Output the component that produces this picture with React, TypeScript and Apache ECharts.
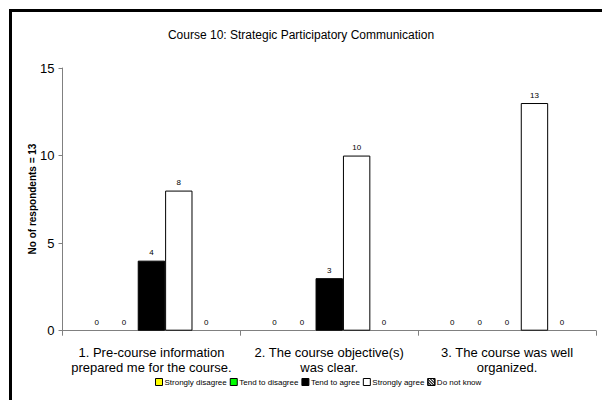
import React, { useEffect, useRef } from "react";
import * as echarts from "echarts";

const categories = [
  "1. Pre-course information\nprepared me for the course.",
  "2. The course objective(s)\nwas clear.",
  "3. The course was well\norganized.",
];
const seriesNames = [
  "Strongly disagree",
  "Tend to disagree",
  "Tend to agree",
  "Strongly agree",
  "Do not know",
];
const stronglyDisagree = [0, 0, 0];
const tendToDisagree = [0, 0, 0];
const tendToAgree = [4, 3, 0];
const stronglyAgree = [8, 10, 13];
const doNotKnow = [0, 0, 0];
const yTicks = { min: 0, max: 15, interval: 5 };
const yAxisTitle = "No of respondents = 13";

const FONT = "'Liberation Sans', Arial, sans-serif";

export default function App() {
  const ref = useRef<HTMLDivElement>(null);
  useEffect(() => {
    if (!ref.current) return;
    const chart = echarts.init(ref.current, undefined, { renderer: "svg" });
    const values = [stronglyDisagree, tendToDisagree, tendToAgree, stronglyAgree, doNotKnow];
    const colors = ["#FFFF00", "#00FF00", "#000000", "#FFFFFF", "#FFFFFF"];
    const series = seriesNames.map((name, i) => ({
      name,
      type: "bar",
      data: values[i].map((v) => ({
        value: v,
        itemStyle: { borderWidth: v === 0 ? 0 : 1 },
      })),
      barGap: "0%",
      barCategoryGap: "23%",
      itemStyle: {
        color: colors[i],
        borderColor: "#000",
        borderWidth: 1,
        ...(i === 4
          ? {
              decal: {
                symbol: "rect",
                symbolSize: 1,
                dashArrayX: [1, 0],
                dashArrayY: [1, 1],
                rotation: Math.PI / 4,
                color: "#000",
                backgroundColor: "#fff",
              },
            }
          : {}),
      },
      label: {
        show: true,
        position: "top",
        fontSize: 8,
        color: "#000",
        fontFamily: FONT,
        distance: 4,
      },
    }));
    chart.setOption({
      animation: false,
      textStyle: { fontFamily: FONT },
      title: {
        text: "Course 10: Strategic Participatory Communication",
        left: "center",
        top: 24,
        textStyle: { fontSize: 12, fontWeight: "normal", color: "#000", fontFamily: FONT },
      },
      graphic: [
        {
          type: "rect",
          shape: { x: 10.5, y: 10.5, width: 640, height: 440 },
          style: { fill: "none", stroke: "#000", lineWidth: 3 },
          silent: true,
        },
        {
          type: "text",
          x: 32,
          y: 199,
          rotation: Math.PI / 2,
          style: {
            text: yAxisTitle,
            align: "center",
            verticalAlign: "middle",
            fontSize: 10,
            fontWeight: "bold",
            fontFamily: FONT,
            fill: "#000",
          },
          silent: true,
        },
      ],
      legend: {
        bottom: 9,
        left: 150,
        icon: "rect",
        itemWidth: 7,
        itemHeight: 7,
        itemGap: 3,
        textStyle: { fontSize: 8, color: "#000", fontFamily: FONT, padding: [0, 0, 0, -3] },
        itemStyle: { borderColor: "#000", borderWidth: 1 },
        data: seriesNames,
      },
      grid: { left: 62.5, right: 6, top: 68, bottom: 69.3 },
      xAxis: {
        type: "category",
        data: categories,
        axisLine: { lineStyle: { color: "#808080", width: 1 } },
        axisTick: { show: true, length: 5, lineStyle: { color: "#808080" } },
        axisLabel: { fontSize: 13, color: "#000", lineHeight: 15, margin: 14, interval: 0, fontFamily: FONT },
      },
      yAxis: {
        type: "value",
        min: yTicks.min,
        max: yTicks.max,
        interval: yTicks.interval,
        axisLine: { show: true, lineStyle: { color: "#808080", width: 1 } },
        axisTick: { show: true, length: 4, lineStyle: { color: "#808080" } },
        splitLine: { show: false },
        axisLabel: { fontSize: 13, color: "#000", margin: 8, fontFamily: FONT },
      },
      series,
    });
    return () => chart.dispose();
  }, []);
  return (
    <div
      ref={ref}
      style={{ position: "fixed", left: 0, top: 0, width: 602, height: 400, background: "#fff" }}
    />
  );
}
